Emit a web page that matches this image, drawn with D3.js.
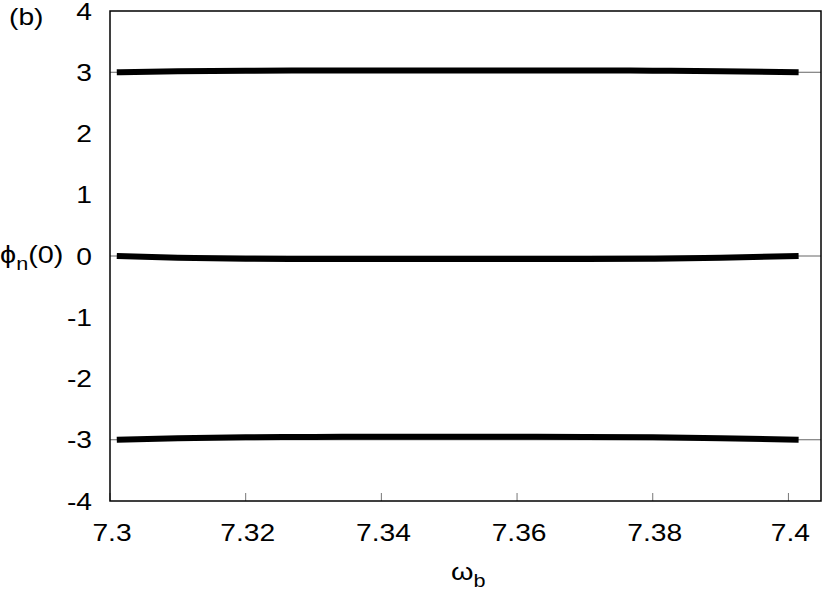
<!DOCTYPE html>
<html>
<head>
<meta charset="utf-8">
<script src="https://cdn.jsdelivr.net/npm/d3@7"></script>
<style>
  body { margin: 0; background: #fff; }
  text { font-family: "Liberation Sans", Arial, sans-serif; fill: #000; }
</style>
</head>
<body>
<svg id="chart" width="822" height="591"></svg>
<script>
// omega_b sample positions
var omega = [7.301, 7.31, 7.32, 7.33, 7.34, 7.35, 7.36, 7.37, 7.38, 7.39, 7.4015];
// phi_n(0) branches
var phiTop = [3.00, 3.015, 3.025, 3.03, 3.03, 3.03, 3.03, 3.03, 3.025, 3.015, 3.00];
var phiMid = [0.00, -0.03, -0.045, -0.05, -0.05, -0.05, -0.05, -0.05, -0.045, -0.03, 0.00];
var phiBot = [-3.00, -2.975, -2.96, -2.955, -2.95, -2.95, -2.95, -2.955, -2.96, -2.975, -3.00];
var xTicks = [7.3, 7.32, 7.34, 7.36, 7.38, 7.4];
var yTicks = [-4, -3, -2, -1, 0, 1, 2, 3, 4];

var svg = d3.select('#chart');
var mLeft = 110, mRight = 821, mTop = 11, mBottom = 501;
var sx = 1.2; // wide glyphs in the reference

var x = d3.scaleLinear().domain([7.3, 7.4048]).range([mLeft, mRight]);
var y = d3.scaleLinear().domain([-4, 4]).range([mBottom, mTop]);

function place(px, py) {
	return 'translate(' + px + ',' + py + ') scale(' + sx + ',1)';
}

// thin lines through full width for each branch
var series = [phiTop, phiMid, phiBot];
series.forEach(function(s) {
	svg.append('line')
			.attr('x1', mLeft).attr('x2', mRight)
			.attr('y1', y(s[0])).attr('y2', y(s[0]))
			.attr('stroke', '#666').attr('stroke-width', 1);
});

// thick data branches
var line = d3.line()
		.x(function(d) { return x(d[0]); })
		.y(function(d) { return y(d[1]); })
		.curve(d3.curveMonotoneX);

series.forEach(function(s) {
	svg.append('path')
			.datum(omega.map(function(w, i) { return [w, s[i]]; }))
			.attr('d', line)
			.attr('fill', 'none')
			.attr('stroke', '#000')
			.attr('stroke-width', 6);
});

// bottom ticks (inward)
svg.selectAll('.xt').data(xTicks).enter().append('line')
		.attr('x1', function(d) { return x(d); }).attr('x2', function(d) { return x(d); })
		.attr('y1', mBottom).attr('y2', mBottom - 8)
		.attr('stroke', '#777').attr('stroke-width', 1);

svg.selectAll('.xl').data(xTicks).enter().append('text')
		.attr('transform', function(d) { return place(x(d) + 2, 541); })
		.attr('text-anchor', 'middle')
		.style('font-size', '23.5px')
		.text(function(d) { return d === 7.3 || d === 7.4 ? d.toFixed(1) : d.toFixed(2); });

svg.selectAll('.yl').data(yTicks).enter().append('text')
		.attr('transform', function(d) { return place(92, y(d) + 8.5); })
		.attr('text-anchor', 'end')
		.style('font-size', '23.5px')
		.text(function(d) { return d; });

// frame
svg.append('rect')
		.attr('x', mLeft).attr('y', mTop)
		.attr('width', mRight - mLeft).attr('height', mBottom - mTop)
		.attr('fill', 'none').attr('stroke', '#000').attr('stroke-width', 1.5);

// axis titles
var xl = svg.append('text').attr('transform', place(451, 580)).style('font-size', '24px');
xl.append('tspan').text('ω');
xl.append('tspan').attr('dy', 7).style('font-size', '18px').text('b');

var yl = svg.append('text').attr('transform', place(0, 263)).style('font-size', '24px');
yl.append('tspan').text('ϕ');
yl.append('tspan').attr('dy', 7).style('font-size', '18px').text('n');
yl.append('tspan').attr('dy', -7).text('(0)');

svg.append('text').attr('transform', place(9, 25)).style('font-size', '23.5px').text('(b)');
</script>
</body>
</html>
